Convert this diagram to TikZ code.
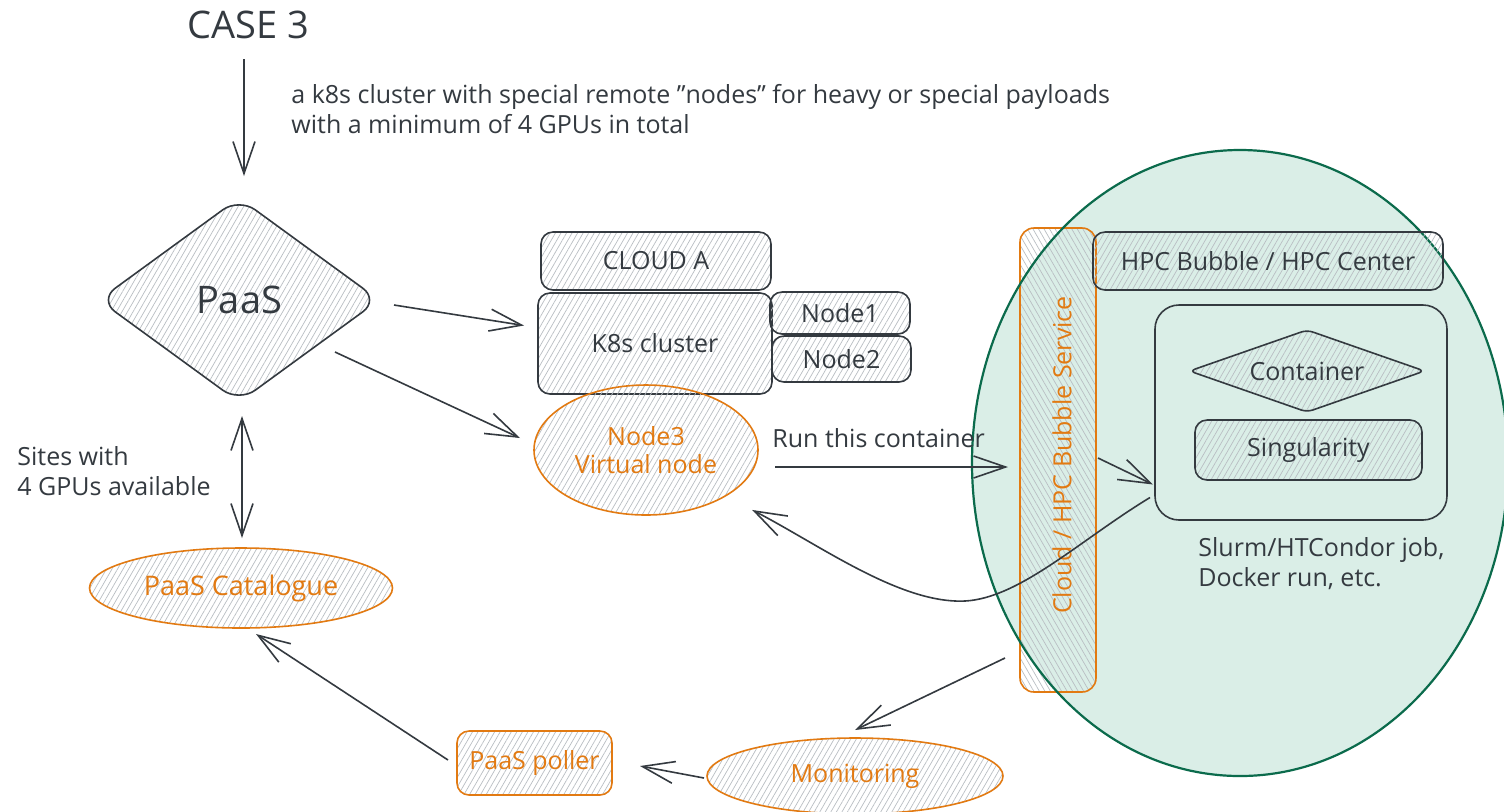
\documentclass[tikz,border=0pt]{standalone}
\usepackage{fontspec}
\setmainfont{Open Sans}
\usetikzlibrary{shapes.geometric,arrows.meta,patterns.meta,calc}

\definecolor{ink}{HTML}{343A40}
\definecolor{amber}{HTML}{E27A12}
\definecolor{sage}{HTML}{0B6B4C}
\definecolor{mint}{HTML}{DAEEE7}
\definecolor{hatch}{HTML}{B9BEC3}

\tikzset{
  hatchfwd/.style={pattern={Lines[angle=60,distance=2.4pt,line width=0.35pt]},pattern color=hatch},
  hatchbwd/.style={pattern={Lines[angle=-60,distance=2.4pt,line width=0.35pt]},pattern color=hatch},
  body/.style={font=\fontsize{12.5}{14}\selectfont},
  panel/.style={draw=ink,line width=0.8pt,rounded corners=6pt,hatchfwd,text=ink,body,align=center,inner sep=0pt,outer sep=0pt},
  opanel/.style={panel,draw=amber,text=amber},
  oval/.style={ellipse,draw=amber,line width=0.8pt,hatchfwd,text=amber,body,align=center,inner sep=0pt,outer sep=0pt},
  rhomb/.style={diamond,draw=ink,line width=0.8pt,hatchfwd,text=ink,align=center,inner sep=0pt,outer sep=0pt},
  note/.style={text=ink,font=\fontsize{12.5}{15}\selectfont,align=left,inner sep=0pt},
  link/.style={draw=ink,line width=0.8pt,-{Straight Barb[length=16pt,width=11pt]}},
  twoway/.style={draw=ink,line width=0.8pt,{Straight Barb[length=16pt,width=11pt]}-{Straight Barb[length=16pt,width=11pt]}},
}

\begin{document}
\begin{tikzpicture}[x=0.5pt,y=-0.5pt]
\clip (0,0) rectangle (1504,811);
\fill[white] (0,0) rectangle (1504,811);

% HPC bubble background
\node[ellipse,fill=mint,minimum width=268pt,minimum height=313pt,inner sep=0pt] (bubble) at (1240,463) {};

% service bar, partly inside the bubble
\node[opanel,hatchbwd,rounded corners=7pt,minimum width=38pt,minimum height=232pt] (bar) at (1058,460) {};
\node[text=amber,body,rotate=90,inner sep=0pt] (barlabel) at (1062,455) {Cloud / HPC Bubble Service};

% bubble outline over the bar
\draw[sage,line width=1.1pt] (bubble.center) ellipse [x radius=134pt,y radius=156.5pt];

% title and description
\node[text=ink,font=\fontsize{19}{22}\selectfont,inner sep=0pt] (title) at (248,25) {CASE 3};
\node[note,anchor=north west] (desc) at (291,84)
  {a k8s cluster with special remote \symbol{34}nodes\symbol{34} for heavy or special payloads\\with a minimum of 4 GPUs in total};

% PaaS side
\node[rhomb,aspect=1.375,rounded corners=10pt,minimum width=140pt,minimum height=102pt,font=\fontsize{19}{22}\selectfont] (paas) at (239,300) {PaaS};
\node[note,anchor=north west] (sites) at (17,446) {Sites with\\4 GPUs available};
\node[oval,minimum width=151.5pt,minimum height=40pt,font=\fontsize{13.5}{15}\selectfont] (catalogue) at (241,588) {PaaS Catalogue};
\node[opanel,minimum width=77.5pt,minimum height=32pt] (poller) at (534.5,763) {PaaS poller};
\node[oval,minimum width=148pt,minimum height=38pt] (monitoring) at (855,776) {Monitoring};

% cloud A
\node[panel,minimum width=115pt,minimum height=29pt] (clouda) at (656,261) {CLOUD A};
\node[panel,minimum width=117pt,minimum height=50.5pt] (k8s) at (655,343.5) {K8s cluster};
\node[panel,minimum width=70pt,minimum height=21pt] (node1) at (840,313) {Node1};
\node[panel,minimum width=69.5pt,minimum height=23pt] (node2) at (841.5,359) {Node2};
\node[oval,minimum width=112pt,minimum height=65pt] (node3) at (646,450) {Node3\\Virtual node};
\node[note,anchor=base west] (runlabel) at (772,447) {Run this container};

% HPC centre
\node[panel,minimum width=175pt,minimum height=29pt] (hpc) at (1268,261) {HPC Bubble / HPC Center};
\node[panel,fill=none,pattern=none,rounded corners=12pt,minimum width=146pt,minimum height=107.5pt] (job) at (1301,412.5) {};
\node[rhomb,aspect=2.87,rounded corners=3pt,minimum width=117.5pt,minimum height=41pt,body] (container) at (1307,371) {Container};
\node[panel,minimum width=113.5pt,minimum height=30pt] (singularity) at (1308.5,450) {Singularity};
\node[note,anchor=north west] (jobnote) at (1198,537) {Slurm/HTCondor job,\\Docker run, etc.};

% connectors
\draw[link] ($(title.south)+(-4,20)$) -- ($(paas.north)+(5,-22)$);
\draw[link] ($(paas.east)+(15,5)$) -- ($(k8s.west)+(-14,-18)$);
\draw[link] ($(paas.center)+(96,52)$) -- ($(node3.west)+(-14,-12)$);
\draw[twoway] ($(paas.south)+(3,14)$) -- ($(catalogue.north)+(1,-10)$);
\draw[link] ($(poller.west)+(-9,-3)$) -- ($(catalogue.south)+(15,6)$);
\draw[link] ($(monitoring.west)+(-3,2)$) -- ($(poller.east)+(28,3)$);
\draw[link] ($(bar.south west)+(-15,-34)$) -- ($(monitoring.north)+(0,-8)$);
\draw[link] ($(node3.east)+(17,17)$) -- ($(bar.west)+(-12,7)$);
\draw[link] ($(bar.east)+(2,-2)$) -- ($(job.west)+(-2,72)$);
\coordinate (dip) at (965,601);
\draw[link] ($(job.west)+(-5,85)$) .. controls (1080,540) and (1020,598) .. (dip)
  .. controls (900,604) and (820,545) .. ($(node3.south east)+(27,14)$);
\end{tikzpicture}
\end{document}
